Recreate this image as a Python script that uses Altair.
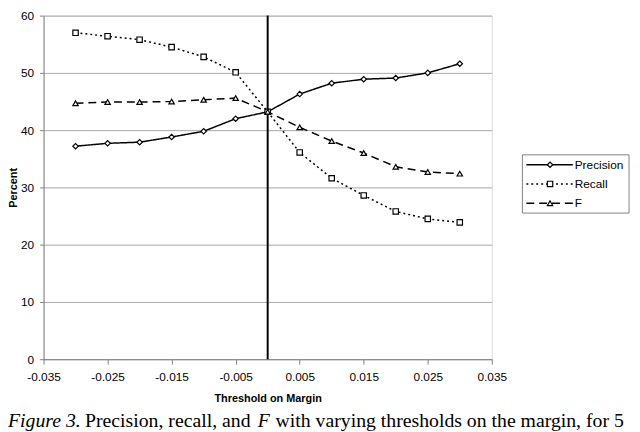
import altair as alt
import pandas as pd

thresholds = [-0.03, -0.025, -0.02, -0.015, -0.01, -0.005, 0.0, 0.005, 0.01, 0.015, 0.02, 0.025, 0.03]
precision = [37.2, 37.7, 37.9, 38.8, 39.8, 42.0, 43.2, 46.3, 48.2, 48.9, 49.1, 50.0, 51.6]
recall = [57.0, 56.4, 55.8, 54.5, 52.8, 50.1, 43.2, 36.1, 31.6, 28.6, 25.8, 24.5, 23.9]
fscore = [44.7, 44.9, 44.9, 45.0, 45.3, 45.6, 43.2, 40.5, 38.1, 36.0, 33.6, 32.7, 32.4]

series_names = ["Precision", "Recall", "F"]
series_shapes = ["diamond", "square", "triangle-up"]
series_dashes = [[1, 0], [2, 3], [8, 5]]
x_ticks = [-0.035, -0.025, -0.015, -0.005, 0.005, 0.015, 0.025, 0.035]
y_ticks = [0, 10, 20, 30, 40, 50, 60]

rows = []
for name, vals in zip(series_names, [precision, recall, fscore]):
    for t, v in zip(thresholds, vals):
        rows.append({"threshold": t, "value": v, "series": name})
df = pd.DataFrame(rows)

W, H = 454, 348
FONT = "Liberation Sans"

x_enc = alt.X(
    "threshold:Q",
    scale=alt.Scale(domain=[-0.035, 0.035], nice=False, zero=False),
    axis=alt.Axis(
        values=x_ticks,
        labelExpr="(datum.value < 0 ? '-' : '') + format(abs(datum.value), '.3f')",
        labelFlush=False,
        grid=False, tickSize=5, tickColor="#808080", domainColor="#808080",
        labelFont=FONT, labelFontSize=12, labelColor="black", labelPadding=8,
        title="Threshold on Margin", titleFont=FONT, titleFontSize=11,
        titleFontWeight="bold", titleColor="black", titlePadding=10,
    ),
)
y_enc = alt.Y(
    "value:Q",
    scale=alt.Scale(domain=[0, 60], nice=False),
    axis=alt.Axis(
        values=y_ticks, grid=True, gridColor="#a8a8a8", tickSize=4,
        tickColor="#808080", domainColor="#808080",
        labelFont=FONT, labelFontSize=12, labelColor="black", labelPadding=6,
        title="Percent", titleFont=FONT, titleFontSize=11, titleFontWeight="bold",
        titleColor="black", titleX=-30, titleY=H / 2, titleBaseline="middle",
    ),
)

base = alt.Chart(df)
lines = base.mark_line(color="black", strokeWidth=1.5).encode(
    x=x_enc, y=y_enc,
    strokeDash=alt.StrokeDash("series:N", scale=alt.Scale(domain=series_names, range=series_dashes), legend=None),
    detail="series:N",
)
vline = alt.Chart(pd.DataFrame({"threshold": [0.0]})).mark_rule(color="black", strokeWidth=2).encode(
    x="threshold:Q", y=alt.value(0), y2=alt.value(H)
)
points = base.mark_point(filled=False, fill="white", fillOpacity=1, color="black", strokeWidth=1.2, size=30, opacity=1).encode(
    x="threshold:Q", y="value:Q",
    shape=alt.Shape("series:N", scale=alt.Scale(domain=series_names, range=series_shapes), legend=None),
)

one = pd.DataFrame({"a": [0]})
legend_layers = [
    alt.Chart(one).mark_rect(fill="white", stroke="#808080", strokeWidth=1).encode(
        x=alt.value(485), x2=alt.value(593), y=alt.value(141), y2=alt.value(200)
    )
]
for i, (name, shp, dash) in enumerate(zip(series_names, series_shapes, series_dashes)):
    yy = 151 + i * 19.5
    legend_layers.append(
        alt.Chart(one).mark_rule(color="black", strokeWidth=1.5, strokeDash=dash).encode(
            x=alt.value(489), x2=alt.value(536), y=alt.value(yy)
        )
    )
    legend_layers.append(
        alt.Chart(one).mark_point(shape=shp, filled=False, fill="white", fillOpacity=1, color="black",
                                  strokeWidth=1.2, size=30, opacity=1).encode(
            x=alt.value(513), y=alt.value(yy)
        )
    )
    legend_layers.append(
        alt.Chart(one).mark_text(align="left", baseline="middle", font=FONT, fontSize=12, color="black").encode(
            x=alt.value(538), y=alt.value(yy), text=alt.value(name)
        )
    )

caption_parts = [
    ("Figure 3.", "italic", -36),
    ("Precision, recall, and", "normal", 42),
    ("F", "italic", 217),
    ("with varying thresholds on the margin, for 5", "normal", 235),
]
caption_layers = []
for txt, style, xpos in caption_parts:
    caption_layers.append(
        alt.Chart(one).mark_text(align="left", baseline="alphabetic", font="Liberation Serif",
                                 fontSize=20, fontStyle=style, color="black").encode(
            x=alt.value(xpos), y=alt.value(417), text=alt.value(txt)
        )
    )

chart = alt.layer(lines, vline, points, *legend_layers, *caption_layers).properties(
    width=W, height=H,
    autosize=alt.AutoSizeParams(type="none"),
    padding={"left": 36, "top": 5, "right": 142, "bottom": 71},
).configure_view(stroke="#a8a8a8").configure(background="white")

chart.save("out.html", embed_options={"renderer": "svg", "actions": False})
